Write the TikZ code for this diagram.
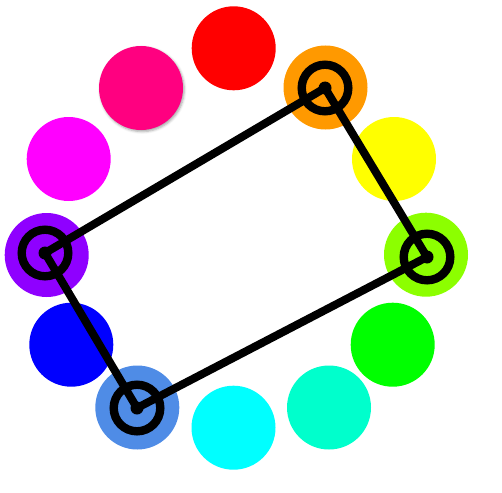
\documentclass[tikz,border=0pt]{standalone}
\usepackage{tikz}
\usetikzlibrary{shadows.blur}

\definecolor{wRed}{RGB}{255,0,0}
\definecolor{wOrange}{RGB}{255,153,0}
\definecolor{wYellow}{RGB}{255,255,0}
\definecolor{wChart}{RGB}{140,255,0}
\definecolor{wGreen}{RGB}{0,255,0}
\definecolor{wSpring}{RGB}{0,255,204}
\definecolor{wCyan}{RGB}{0,255,255}
\definecolor{wAzure}{RGB}{79,140,230}
\definecolor{wBlue}{RGB}{0,0,255}
\definecolor{wViolet}{RGB}{143,0,255}
\definecolor{wMagenta}{RGB}{255,0,255}
\definecolor{wRose}{RGB}{255,0,128}

\begin{document}
\begin{tikzpicture}[x=0.5pt, y=-0.5pt,
    hue/.style={circle, inner sep=0pt, minimum size=42pt, fill=#1},
    ring/.style={circle, draw=black, line width=4.2pt, inner sep=0pt, minimum size=23.3pt},
    pick/.style={circle, fill=black, inner sep=0pt, minimum size=6.5pt},
    edge/.style={draw=black, line width=4pt, line join=round}]
  \useasboundingbox (0,0) rectangle (502,492);

  % Farbkreis mit zwoelf Farbtoenen
  \node[hue=wRed]     (red)     at (233.7,48.3)  {};
  \node[hue=wOrange]  (orange)  at (325.5,87.5)  {};
  \node[hue=wYellow]  (yellow)  at (394,159)     {};
  \node[hue=wChart]   (chart)   at (426,254.7)   {};
  \node[hue=wGreen]   (green)   at (392.7,344.7) {};
  \node[hue=wSpring]  (spring)  at (329,407.5)   {};
  \node[hue=wCyan]    (cyan)    at (233.5,427.7) {};
  \node[hue=wAzure]   (azure)   at (137.3,407.5) {};
  \node[hue=wBlue]    (blue)    at (71.3,344.7)  {};
  \node[hue=wViolet]  (violet)  at (46.7,255)    {};
  \node[hue=wMagenta] (magenta) at (68.7,159)    {};
  \node[hue=wRose, blur shadow={shadow xshift=0.6pt, shadow yshift=-0.8pt,
        shadow blur radius=1.2pt, shadow opacity=35}] (rose) at (141,88) {};

  % Rechteck (Tetrade)
  \coordinate (pO) at (325,88);
  \coordinate (pC) at (427,257);
  \coordinate (pA) at (137,408);
  \coordinate (pV) at (45,253);
  \draw[edge] (pO) -- (pC) -- (pA) -- (pV) -- cycle;

  % Markierungen
  \foreach \p in {pO,pC,pA,pV}{
    \node[ring] at (\p) {};
    \node[pick] at (\p) {};
  }
\end{tikzpicture}
\end{document}
